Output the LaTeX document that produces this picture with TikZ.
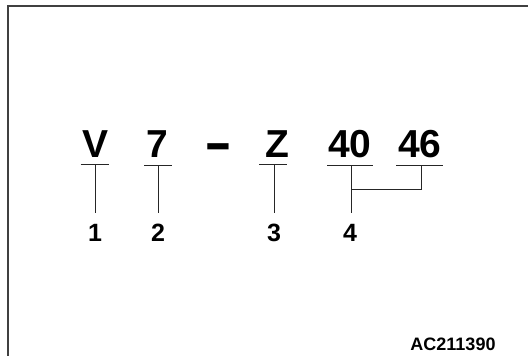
\documentclass[tikz,border=0pt]{standalone}
\usepackage{fontspec}
\setmainfont{Liberation Sans}
\begin{document}
\begin{tikzpicture}[x=1pt,y=-1pt,
  big/.style={font=\fontsize{39}{39}\selectfont\bfseries, anchor=base, inner sep=0},
  lab/.style={font=\fontsize{25}{25}\selectfont\bfseries, anchor=base, inner sep=0},
  code/.style={font=\fontsize{18}{18}\selectfont\bfseries, anchor=base, inner sep=0},
  ln/.style={line width=0.9pt, draw=black!85},
  frame/.style={line width=1.4pt, draw=black!75}]
\useasboundingbox (0,0) rectangle (528,356);
\coordinate (fb) at (8,356);
\coordinate (ftl) at (8,6);
\coordinate (ftr) at (528,6);
\draw[frame] (fb) -- (ftl) -- (ftr);
% code characters
\node[big] (V) at (95.5,157) {V};
\node[big] (S) at (157.5,157) {7};
\node[big] (D) at (218,157) {\raisebox{-6.8pt}{\scalebox{1.1}[1.6]{–}}};
\node[big] (Z) at (277,157) {Z};
\node[big] (F) at (350,157) {40};
\node[big] (G) at (420,157) {46};
% labels
\node[lab] (n1) at (95,241) {1};
\node[lab] (n2) at (158,241) {2};
\node[lab] (n3) at (274,241) {3};
\node[lab] (n4) at (350,241) {4};
\node[code] (ac) at (453,350.5) {AC211390};
% underlines
\coordinate (uVl) at (80.5,164.5); \coordinate (uVr) at (108.5,164.5); \coordinate (uV) at (95,164.5);
\coordinate (uSl) at (144,165.5);  \coordinate (uSr) at (172,165.5);  \coordinate (uS) at (158,165.5);
\coordinate (uZl) at (259,164.5);  \coordinate (uZr) at (287,164.5);  \coordinate (uZ) at (274,164.5);
\coordinate (uFl) at (327,165.5);  \coordinate (uFr) at (373,165.5);  \coordinate (uF) at (351,165.5);
\coordinate (uGl) at (396,165.5);  \coordinate (uGr) at (443,165.5);  \coordinate (uG) at (421,165.5);
\draw[ln] (uVl) -- (uVr);
\draw[ln] (uSl) -- (uSr);
\draw[ln] (uZl) -- (uZr);
\draw[ln] (uFl) -- (uFr);
\draw[ln] (uGl) -- (uGr);
% leaders
\coordinate (e1) at (95,213);
\coordinate (e2) at (158,213);
\coordinate (e3) at (274,213);
\coordinate (e4) at (351,213);
\coordinate (jF) at (351,189);
\coordinate (jG) at (421,189);
\draw[ln] (uV) -- (e1);
\draw[ln] (uS) -- (e2);
\draw[ln] (uZ) -- (e3);
\draw[ln] (uF) -- (e4);
\draw[ln] (jF) -- (jG) -- (uG);
\end{tikzpicture}
\end{document}
